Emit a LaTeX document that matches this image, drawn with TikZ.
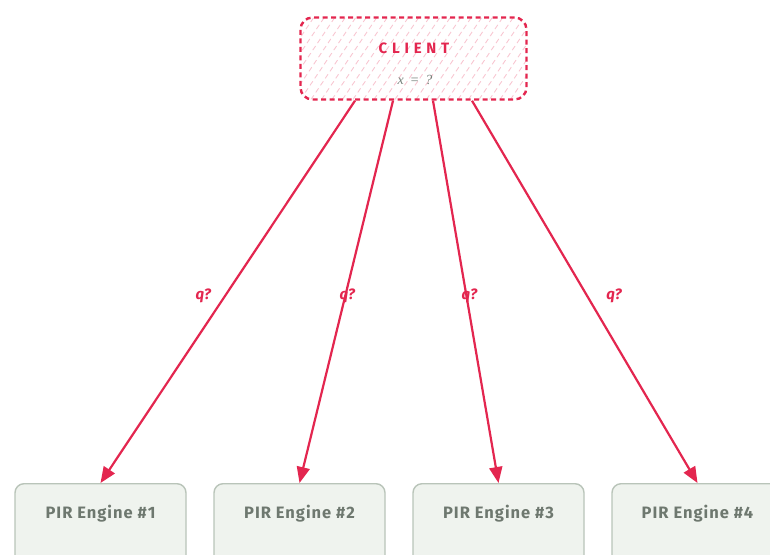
\documentclass[tikz,border=0pt]{standalone}
\usepackage{fontspec}
\setmainfont{Fira Sans}
\newfontfamily\serifit{Liberation Serif}
\usetikzlibrary{arrows.meta,calc}
\definecolor{crimson}{HTML}{E3264F}
\definecolor{hatchpink}{HTML}{F8C6D1}
\definecolor{enginefill}{HTML}{EFF3EE}
\definecolor{enginedraw}{HTML}{B9C4B9}
\definecolor{enginetext}{HTML}{6E786F}
\definecolor{vargrey}{HTML}{76817A}
\tikzset{
  clientbox/.style={draw=crimson, line width=2.4pt, dash pattern=on 5pt off 3.5pt,
    rounded corners=12pt, minimum width=226pt, minimum height=82pt,
    path picture={
      \foreach \i in {-10,...,24}
        \draw[hatchpink, line width=0.9pt]
          ($(path picture bounding box.south west)+(\i*10.5,0)$) -- ++(62,-92);
    }},
  enginebox/.style={draw=enginedraw, line width=1.4pt, fill=enginefill,
    rounded corners=9pt, minimum width=171pt, inner xsep=0pt, inner ysep=0pt,
    text height=35pt, text depth=70pt, anchor=north,
    font=\fontsize{16.5}{18}\selectfont\bfseries\addfontfeatures{LetterSpace=6},
    text=enginetext},
  query/.style={draw=crimson, line width=2.2pt,
    -{Triangle[length=16pt,width=13pt]}},
  qlabel/.style={font=\fontsize{15}{17}\selectfont\bfseries\itshape, text=crimson,
    inner sep=1pt}
}
\begin{document}
\begin{tikzpicture}[x=1pt,y=-1pt]
  \useasboundingbox (0,0) rectangle (770,554);

  % client with unknown index
  \node[clientbox] (client) at (413.5,58.5) {};
  \node[font=\fontsize{15}{17}\selectfont\bfseries\addfontfeatures{LetterSpace=32},
        text=crimson] (clientname) at (414,48) {CLIENT};
  \node[font=\fontsize{14}{16}\selectfont\serifit\itshape, text=vargrey]
        (unknown) at (415,80) {x\hspace{6pt}=\hspace{6pt}?};

  % the four servers
  \node[enginebox] (e1) at (100.5,483) {PIR Engine \#1};
  \node[enginebox] (e2) at (299.5,483) {PIR Engine \#2};
  \node[enginebox] (e3) at (498.5,483) {PIR Engine \#3};
  \node[enginebox] (e4) at (697.5,483) {PIR Engine \#4};

  % query departure points on the client's lower edge
  \coordinate (s1) at ($(client.south)+(-58.5,0)$);
  \coordinate (s2) at ($(client.south)+(-20.5,0)$);
  \coordinate (s3) at ($(client.south)+(19.5,0)$);
  \coordinate (s4) at ($(client.south)+(58.5,0)$);

  \draw[query] (s1) -- node[qlabel, pos=0.51, xshift=-22pt] {q?} (e1.north);
  \draw[query] (s2) -- node[qlabel, pos=0.51, xshift=2pt] {q?} (e2.north);
  \draw[query] (s3) -- node[qlabel, pos=0.51, xshift=3pt] {q?} (e3.north);
  \draw[query] (s4) -- node[qlabel, pos=0.51, xshift=27pt] {q?} (e4.north);
\end{tikzpicture}
\end{document}
